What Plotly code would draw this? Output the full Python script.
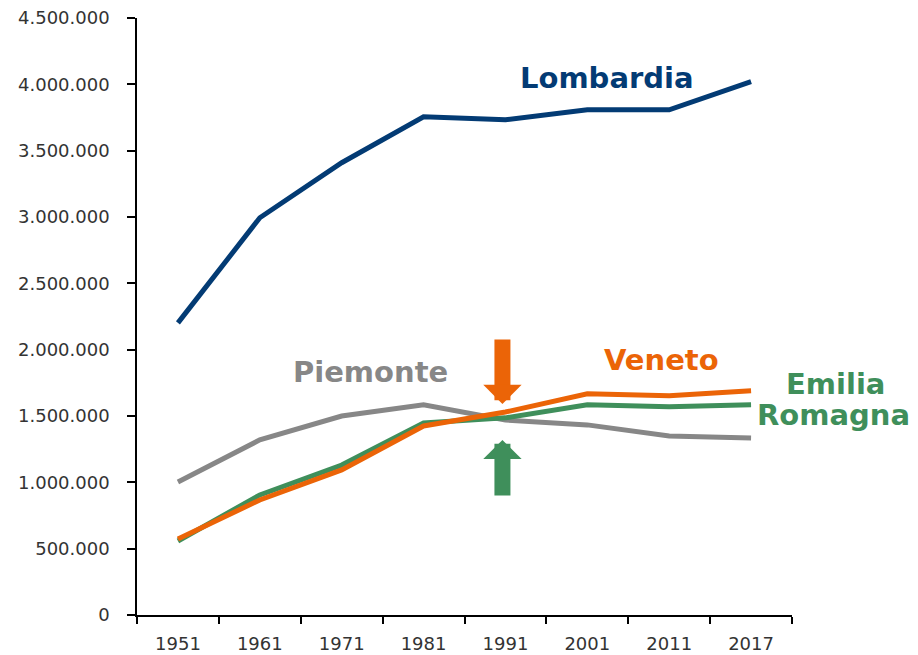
import plotly.graph_objects as go

years = ["1951", "1961", "1971", "1981", "1991", "2001", "2011", "2017"]
lombardia = [2202000, 2994000, 3409000, 3756000, 3733000, 3808000, 3808000, 4020000]
piemonte = [1003000, 1320000, 1500000, 1584000, 1470000, 1433000, 1350000, 1335000]
veneto = [573000, 867000, 1094000, 1425000, 1530000, 1667000, 1652000, 1690000]
emilia = [558000, 905000, 1130000, 1448000, 1486000, 1584000, 1569000, 1584000]

y_ticks = [0, 500000, 1000000, 1500000, 2000000, 2500000, 3000000, 3500000, 4000000, 4500000]
y_tick_labels = ["0", "500.000", "1.000.000", "1.500.000", "2.000.000", "2.500.000",
                 "3.000.000", "3.500.000", "4.000.000", "4.500.000"]

C_LOM = "#033B74"
C_PIE = "#878787"
C_VEN = "#EB6407"
C_EMI = "#3F8F5B"

fig = go.Figure()
for name, vals, col in [("Piemonte", piemonte, C_PIE), ("Emilia Romagna", emilia, C_EMI),
                        ("Veneto", veneto, C_VEN), ("Lombardia", lombardia, C_LOM)]:
    fig.add_trace(go.Scatter(x=years, y=vals, mode="lines", name=name,
                             line=dict(color=col, width=5), showlegend=False))

lab_font = "DejaVu Sans"
anns = [
    dict(text="<b>Lombardia</b>", x=0.718, y=0.899, color=C_LOM),
    dict(text="<b>Piemonte</b>", x=0.357, y=0.407, color=C_PIE),
    dict(text="<b>Veneto</b>", x=0.80, y=0.427, color=C_VEN),
    dict(text="<b>Emilia</b>", x=1.067, y=0.387, color=C_EMI),
    dict(text="<b>Romagna</b>", x=1.064, y=0.335, color=C_EMI),
]
for a in anns:
    fig.add_annotation(text=a["text"], x=a["x"], y=a["y"], xref="paper", yref="paper",
                       xanchor="center", yanchor="middle", showarrow=False,
                       font=dict(family=lab_font, size=29, color=a["color"]))

# arrows pointing at the 1991 crossing
idx_1991 = years.index("1991")
fig.add_annotation(x=idx_1991, y=1590000, xref="x", yref="y", text="", showarrow=True,
                   ax=0, ay=-66, arrowhead=1, arrowsize=0.4, arrowwidth=16,
                   arrowcolor=C_VEN, standoff=0, xshift=-3)
fig.add_annotation(x=idx_1991, y=1320000, xref="x", yref="y", text="", showarrow=True,
                   ax=0, ay=57, arrowhead=1, arrowsize=0.4, arrowwidth=16,
                   arrowcolor=C_EMI, standoff=0, xshift=-3)

fig.update_layout(
    width=918, height=655,
    margin=dict(l=137, r=126, t=18, b=40),
    paper_bgcolor="white", plot_bgcolor="white",
    font=dict(family="DejaVu Sans", size=18, color="#333333"),
)
fig.update_xaxes(type="category", range=[-0.5, len(years) - 0.5], automargin=False,
                 showline=True, linecolor="black", linewidth=1.5,
                 ticks="outside", tickson="boundaries", ticklen=7, tickcolor="black",
                 tickwidth=1.5, showgrid=False, zeroline=False, tickangle=0,
                 ticklabelstandoff=12, tickfont=dict(size=18, color="#333333"))
fig.update_yaxes(range=[0, 4500000], tickvals=y_ticks, ticktext=y_tick_labels,
                 automargin=False,
                 showline=True, linecolor="black", linewidth=1.5, ticks="outside",
                 ticklen=8, tickcolor="black", tickwidth=1.5, showgrid=False,
                 zeroline=False, ticklabelstandoff=14,
                 tickfont=dict(size=18, color="#333333"))

fig.write_html("out.html", config={"displayModeBar": False},
               post_script="document.body.style.margin='0';document.body.style.overflow='hidden';")
